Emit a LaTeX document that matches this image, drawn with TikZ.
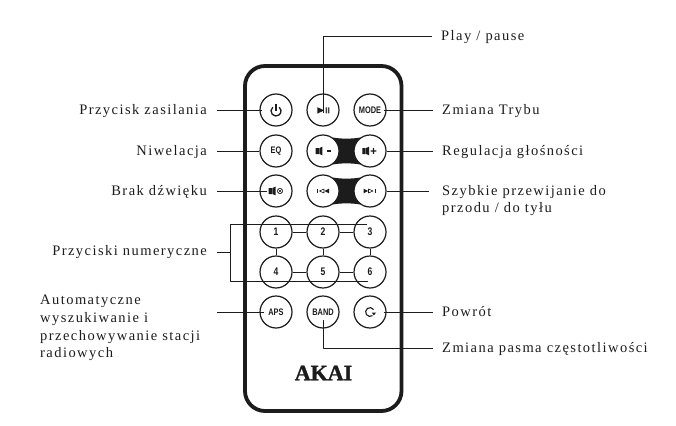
\documentclass[tikz,border=0pt]{standalone}
\usepackage{fontspec}
\setmainfont{Liberation Serif}
\newfontfamily\labfont[LetterSpace=10]{Liberation Serif}
\newfontfamily\btnfont[FakeStretch=0.78]{Liberation Sans}
\newfontfamily\brandfont[FakeBold=1.5]{Liberation Serif}
\definecolor{ink}{HTML}{1C1C1C}
\tikzset{
  btn/.style={circle,draw=ink,line width=1.2pt,fill=white,minimum size=32pt,inner sep=0pt,
    font=\btnfont\bfseries\fontsize{9.5}{10}\selectfont,text=ink},
  digit/.style={font=\btnfont\bfseries\fontsize{11}{11}\selectfont},
  conn/.style={draw=ink,line width=1.0pt},
  labtext/.style={text=ink,font=\labfont\fontsize{14.5}{17.7}\selectfont},
  labl/.style={labtext,anchor=east,inner xsep=10pt,inner ysep=0pt,text height=10pt,text depth=2pt},
  labr/.style={labtext,anchor=west,inner xsep=9pt,inner ysep=0pt,text height=10pt,text depth=2pt},
  labblock/.style={labtext,anchor=north west,inner sep=0pt,align=left},
  iconline/.style={draw=ink,line width=0.8pt}
}
\begin{document}
\begin{tikzpicture}[x=1pt,y=-1pt,line join=round]
  \useasboundingbox (0,0) rectangle (676,425);

  % body
  \draw[ink,line width=3.8pt,rounded corners=20pt] (245,66) rectangle (401.5,411);

  % black bridges
  \fill[ink] (333,137.5) .. controls (340,139) and (353,139) .. (360,137.5) -- (360,164.5)
    .. controls (353,163) and (340,163) .. (333,164.5) -- cycle;
  \fill[ink] (333,177.5) .. controls (340,179) and (353,179) .. (360,177.5) -- (360,204.5)
    .. controls (353,203) and (340,203) .. (333,204.5) -- cycle;

  % buttons
  \node[btn] (btnPower) at (276,110) {};
  \node[btn] (btnPlay) at (323,110) {};
  \node[btn] (btnMode) at (370,110) {MODE};
  \node[btn] (btnEq) at (276,151) {EQ};
  \node[btn] (btnVolDown) at (323,151) {};
  \node[btn] (btnVolUp) at (370,151) {};
  \node[btn] (btnMute) at (276,191) {};
  \node[btn] (btnPrev) at (323,191) {};
  \node[btn] (btnNext) at (370,191) {};
  \node[btn,digit] (btnOne) at (276,232) {1};
  \node[btn,digit] (btnTwo) at (323,232) {2};
  \node[btn,digit] (btnThree) at (370,232) {3};
  \node[btn,digit] (btnFour) at (276,272) {4};
  \node[btn,digit] (btnFive) at (323,272) {5};
  \node[btn,digit] (btnSix) at (370,272) {6};
  \node[btn] (btnAps) at (276,312) {APS};
  \node[btn] (btnBand) at (323,312) {BAND};
  \node[btn] (btnBack) at (370,312) {};

  % icons
  \draw[ink,line width=1.3pt] (272.8,107.2) arc[start angle=-130,delta angle=-280,radius=5];
  \draw[ink,line width=1.3pt] (276,103.5) -- (276,110.5);
  \fill[ink] (317.3,107.2) -- (324.2,110.4) -- (317.3,113.6) -- cycle;
  \fill[ink!85] (325.7,107.4) rectangle (327.1,113.4) (328,107.4) rectangle (329.4,113.4);

  \fill[ink] (315.6,148) rectangle (319,154) (319.5,148) -- (322.3,146.7) -- (322.3,155.3) -- (319.5,154) -- cycle;
  \fill[ink] (326.7,150.3) rectangle (330.7,151.7);
  \fill[ink] (362.3,148) rectangle (365.7,154) (366.2,148) -- (369,146.7) -- (369,155.3) -- (366.2,154) -- cycle;
  \fill[ink] (370.7,150.3) rectangle (376.3,151.7) (372.8,148.2) rectangle (374.2,153.8);

  \fill[ink] (268.7,188) rectangle (272,194) (272.5,188) -- (275.5,186.7) -- (275.5,195.3) -- (272.5,194) -- cycle;
  \draw[iconline,line width=0.5pt] (280,191) circle (2.8) (278.2,189.2) -- (281.8,192.8) (278.2,192.8) -- (281.8,189.2);

  \fill[ink] (316.8,188.7) rectangle (317.6,193.3);
  \draw[iconline,line width=0.6pt] (324,189) -- (319.5,191) -- (324,193) -- cycle;
  \fill[ink] (329,188.7) -- (324.3,191) -- (329,193.3) -- cycle;
  \fill[ink] (363.5,188.7) -- (368.2,191) -- (363.5,193.3) -- cycle;
  \draw[iconline,line width=0.6pt] (368.5,189) -- (373,191) -- (368.5,193) -- cycle;
  \fill[ink] (375.4,188.7) rectangle (376.2,193.3);

  \draw[ink,line width=1.1pt] (373.6,309.5) arc[start angle=-35,delta angle=-270,radius=4.4];
  \fill[ink] (371.8,312.6) -- (376,312.6) -- (373.9,315.4) -- cycle;

  % labels left
  \node[labl] (lblPower) at (217,110) {Przycisk zasilania};
  \node[labl] (lblEq) at (217,151) {Niwelacja};
  \node[labl] (lblMute) at (217,191) {Brak dźwięku};
  \node[labl] (lblNum) at (217,251) {Przyciski numeryczne};
  \node[labblock] (lblAps) at (40,295) {Automatyczne\\wyszukiwanie i\\przechowywanie stacji\\radiowych};

  % labels right
  \node[labr] (lblPlay) at (432,37) {Play / pause};
  \node[labr] (lblMode) at (433,110) {Zmiana Trybu};
  \node[labr] (lblVol) at (433,151) {Regulacja głośności};
  \node[labblock] (lblSeek) at (442,185) {Szybkie przewijanie do\\przodu / do tyłu};
  \node[labr] (lblBack) at (433,312) {Powrót};
  \node[labr] (lblBand) at (433,348) {Zmiana pasma częstotliwości};

  % free ends
  \coordinate (brTop) at (230,224);
  \coordinate (brStem) at (230,252);
  \coordinate (brBot) at (230,281);
  \coordinate (apsEnd) at (217,312);
  \coordinate (seekEnd) at (429,191);

  % connectors
  \draw[conn] (lblPower.east) -- ([xshift=3pt]btnPower.west);
  \draw[conn] (lblEq.east) -- (btnEq.west);
  \draw[conn] (lblMute.east) -- ([xshift=8pt]btnMute.west);
  \draw[conn] (apsEnd) -- ([xshift=5pt]btnAps.west);
  \draw[conn] ([yshift=-3pt]btnPlay.center) -- (btnPlay.center |- lblPlay.west) -- (lblPlay.west);
  \draw[conn] ([xshift=-3pt]btnMode.east) -- (lblMode.west);
  \draw[conn] (btnVolUp.east) -- (lblVol.west);
  \draw[conn] (btnNext.east) -- (seekEnd);
  \draw[conn] ([xshift=-3pt]btnBack.east) -- (lblBack.west);
  \draw[conn] ([yshift=-8pt]btnBand.center) -- (btnBand.center |- lblBand.west) -- (lblBand.west);

  % number group
  \draw[conn] (btnOne) -- (btnTwo);
  \draw[conn] (btnTwo) -- (btnThree);
  \draw[conn] (btnFour) -- (btnFive);
  \draw[conn] (btnFive) -- (btnSix);
  \draw[conn] (btnOne) -- (btnFour);
  \draw[conn] (btnTwo) -- (btnFive);
  \draw[conn] (btnThree) -- (btnSix);
  \draw[conn] ([xshift=-3pt,yshift=8pt]btnThree.center) -- (brTop) -- (brBot) -- ([xshift=-2pt,yshift=-9pt]btnSix.center);
  \draw[conn] (lblNum.east |- brStem) -- (brStem);

  % brand
  \node[inner sep=0pt,text=ink,font=\brandfont\bfseries\fontsize{22}{22}\selectfont] (lblBrand) at (323.5,373) {AKAI};
\end{tikzpicture}
\end{document}
